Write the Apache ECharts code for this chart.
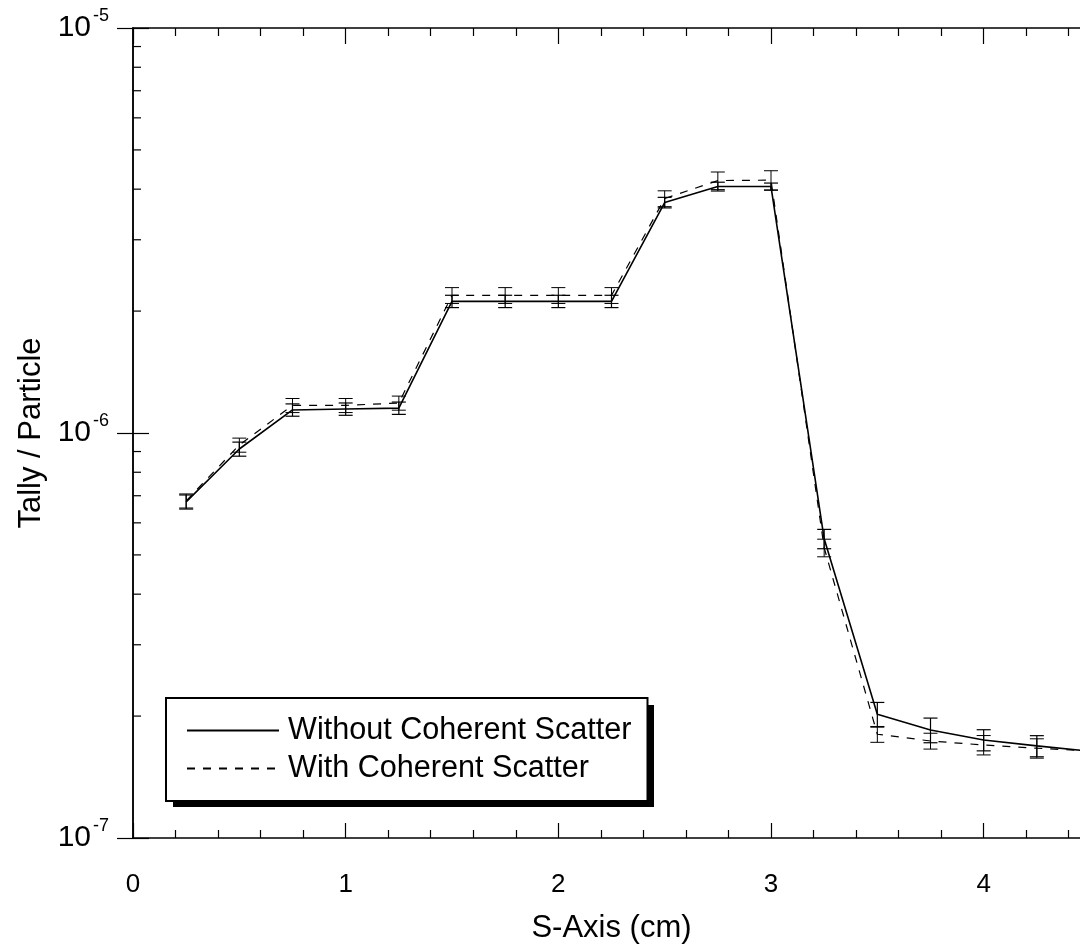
<!DOCTYPE html>
<html>
<head>
<meta charset="utf-8">
<title>Tally / Particle along the S-Axis</title>
<script src="https://cdn.jsdelivr.net/npm/echarts@6/dist/echarts.min.js"></script>
<style>
  html, body { margin: 0; padding: 0; background: #ffffff; overflow: hidden; }
  /* the frame runs a little past the right edge of the window */
  #chart { width: 1100px; height: 949px; }
</style>
</head>
<body>
<div id="chart"></div>
<script>
// Tally positions along the S-axis (cm)
const sPositions = [0.25, 0.5, 0.75, 1.0, 1.25, 1.5, 1.75, 2.0, 2.25, 2.5, 2.75, 3.0, 3.25, 3.5, 3.75, 4.0, 4.25, 4.5];

// Tally / particle without coherent scatter, and its relative error
const withoutCoherent = [6.76e-7, 9.13e-7, 1.14e-6, 1.146e-6, 1.152e-6, 2.114e-6, 2.114e-6, 2.114e-6, 2.114e-6, 3.707e-6, 4.06e-6, 4.06e-6, 5.48e-7, 2.02e-7, 1.848e-7, 1.746e-7, 1.688e-7, 1.638e-7];
const withoutCoherentErr = [0.04, 0.04, 0.035, 0.035, 0.035, 0.035, 0.035, 0.035, 0.035, 0.03, 0.025, 0.02, 0.055, 0.07, 0.07, 0.06, 0.06, 0.06];

// Tally / particle with coherent scatter, and its relative error
const withCoherent = [6.80e-7, 9.34e-7, 1.17e-6, 1.17e-6, 1.186e-6, 2.187e-6, 2.187e-6, 2.187e-6, 2.187e-6, 3.792e-6, 4.20e-6, 4.21e-6, 5.207e-7, 1.804e-7, 1.736e-7, 1.697e-7, 1.666e-7, 1.64e-7];
const withCoherentErr = [0.04, 0.04, 0.04, 0.04, 0.04, 0.045, 0.045, 0.045, 0.045, 0.045, 0.05, 0.055, 0.05, 0.045, 0.045, 0.055, 0.055, 0.055];

// Axis ranges and the intermediate ticks of each log decade
const xMin = 0;
const xMax = 4.5;
const yMin = 1e-7;
const yMax = 1e-5;
const yMinorTicks = [2e-7, 3e-7, 4e-7, 5e-7, 6e-7, 7e-7, 8e-7, 9e-7, 2e-6, 3e-6, 4e-6, 5e-6, 6e-6, 7e-6, 8e-6, 9e-6];

const seriesNames = ['Without Coherent Scatter', 'With Coherent Scatter'];
const xAxisTitle = 'S-Axis (cm)';
const yAxisTitle = 'Tally / Particle';

const FONT = '"Liberation Sans", Arial, Helvetica, sans-serif';
const INK = '#000000';

const pairs = (ys) => sPositions.map((x, i) => [x, ys[i]]);
const bars = (ys, errs) => sPositions.map((x, i) => [x, ys[i] * (1 - errs[i]), ys[i] * (1 + errs[i])]);

// Vertical error bar with flat caps
function errorBarItem(width) {
  return function (params, api) {
    const x = api.value(0);
    const lo = api.coord([x, api.value(1)]);
    const hi = api.coord([x, api.value(2)]);
    const half = 7;
    const style = { stroke: INK, lineWidth: width, fill: null };
    return {
      type: 'group',
      children: [
        { type: 'line', shape: { x1: lo[0], y1: lo[1], x2: hi[0], y2: hi[1] }, style: style },
        { type: 'line', shape: { x1: lo[0] - half, y1: lo[1], x2: lo[0] + half, y2: lo[1] }, style: style },
        { type: 'line', shape: { x1: hi[0] - half, y1: hi[1], x2: hi[0] + half, y2: hi[1] }, style: style }
      ]
    };
  };
}

// Short inward ticks at 2..9 within each decade, on both vertical frame edges
function yMinorTickItem(params, api) {
  const v = api.value(1);
  const l = api.coord([xMin, v]);
  const r = api.coord([xMax, v]);
  const len = 8;
  const style = { stroke: INK, lineWidth: 1.2 };
  return {
    type: 'group',
    children: [
      { type: 'line', shape: { x1: l[0], y1: l[1], x2: l[0] + len, y2: l[1] }, style: style },
      { type: 'line', shape: { x1: r[0], y1: r[1], x2: r[0] - len, y2: r[1] }, style: style }
    ]
  };
}

const chart = echarts.init(document.getElementById('chart'), null, { renderer: 'canvas' });

const frameLine = { show: true, lineStyle: { color: INK, width: 1.5 } };

const option = {
  animation: false,
  backgroundColor: '#ffffff',
  textStyle: { fontFamily: FONT, color: INK },
  grid: { left: 133, top: 28, width: 957, height: 812, containLabel: false },
  // solid drop shadow behind the legend box
  graphic: [
    {
      type: 'rect',
      z: 3,
      silent: true,
      shape: { x: 173, y: 705, width: 481, height: 102 },
      style: { fill: INK }
    }
  ],
  legend: {
    data: seriesNames,
    orient: 'vertical',
    left: 166,
    top: 698,
    z: 4,
    padding: [17, 16, 17, 20],
    itemGap: 7,
    itemWidth: 92,
    itemHeight: 14,
    selectedMode: false,
    backgroundColor: '#ffffff',
    borderColor: INK,
    borderWidth: 2,
    borderRadius: 0,
    itemStyle: { opacity: 0, borderWidth: 0 },
    textStyle: { fontFamily: FONT, fontSize: 30.6, color: INK, padding: [0, 0, 0, 4] }
  },
  xAxis: [
    {
      type: 'value',
      position: 'bottom',
      min: xMin,
      max: xMax,
      interval: 1,
      name: xAxisTitle,
      nameLocation: 'middle',
      nameGap: 75,
      nameTextStyle: { fontFamily: FONT, fontSize: 31, color: INK },
      axisLine: frameLine,
      axisTick: { show: true, inside: true, length: 15, lineStyle: { color: INK, width: 1.2 } },
      minorTick: { show: true, splitNumber: 5, length: 8, lineStyle: { color: INK, width: 1.2 } },
      splitLine: { show: false },
      axisLabel: { margin: 34, fontFamily: FONT, fontSize: 26, color: INK, showMaxLabel: false }
    },
    {
      type: 'value',
      position: 'top',
      min: xMin,
      max: xMax,
      interval: 1,
      axisLine: frameLine,
      axisTick: { show: true, inside: true, length: 16, lineStyle: { color: INK, width: 1.2 } },
      minorTick: { show: true, splitNumber: 5, length: 8, lineStyle: { color: INK, width: 1.2 } },
      splitLine: { show: false },
      axisLabel: { show: false }
    }
  ],
  yAxis: [
    {
      type: 'log',
      logBase: 10,
      position: 'left',
      min: yMin,
      max: yMax,
      name: yAxisTitle,
      nameLocation: 'middle',
      nameRotate: 90,
      nameGap: 83,
      nameTextStyle: { fontFamily: FONT, fontSize: 31, color: INK },
      axisLine: frameLine,
      axisTick: { show: true, inside: true, length: 16, lineStyle: { color: INK, width: 1.2 } },
      splitLine: { show: false },
      axisLabel: {
        margin: 24,
        formatter: function (v) {
          const e = Math.round(Math.log10(v));
          return '{b|10}{s|' + e + '}';
        },
        rich: {
          b: { fontFamily: FONT, fontSize: 30, color: INK, lineHeight: 42 },
          s: { fontFamily: FONT, fontSize: 18, color: INK, verticalAlign: 'top', padding: [0, 0, 0, 2] }
        }
      }
    },
    {
      type: 'log',
      logBase: 10,
      position: 'right',
      min: yMin,
      max: yMax,
      axisLine: frameLine,
      axisTick: { show: true, inside: true, length: 16, lineStyle: { color: INK, width: 1.2 } },
      splitLine: { show: false },
      axisLabel: { show: false }
    }
  ],
  series: [
    {
      name: 'yMinorTicks',
      type: 'custom',
      xAxisIndex: 0,
      yAxisIndex: 0,
      renderItem: yMinorTickItem,
      data: yMinorTicks.map((v) => [xMin, v]),
      silent: true,
      clip: false,
      z: 1
    },
    {
      name: seriesNames[0] + ' error',
      type: 'custom',
      xAxisIndex: 0,
      yAxisIndex: 0,
      renderItem: errorBarItem(1.2),
      encode: { x: 0, y: [1, 2] },
      data: bars(withoutCoherent, withoutCoherentErr),
      silent: true,
      z: 2
    },
    {
      name: seriesNames[1] + ' error',
      type: 'custom',
      xAxisIndex: 0,
      yAxisIndex: 0,
      renderItem: errorBarItem(1.0),
      encode: { x: 0, y: [1, 2] },
      data: bars(withCoherent, withCoherentErr),
      silent: true,
      z: 2
    },
    {
      name: seriesNames[0],
      type: 'line',
      xAxisIndex: 0,
      yAxisIndex: 0,
      data: pairs(withoutCoherent),
      symbol: 'none',
      showSymbol: false,
      lineStyle: { color: INK, width: 1.6, type: 'solid' },
      itemStyle: { color: INK },
      z: 3
    },
    {
      name: seriesNames[1],
      type: 'line',
      xAxisIndex: 0,
      yAxisIndex: 0,
      data: pairs(withCoherent),
      symbol: 'none',
      showSymbol: false,
      lineStyle: { color: INK, width: 1.2, type: [8, 8] },
      itemStyle: { color: INK },
      z: 3
    }
  ]
};

chart.setOption(option);
</script>
</body>
</html>
